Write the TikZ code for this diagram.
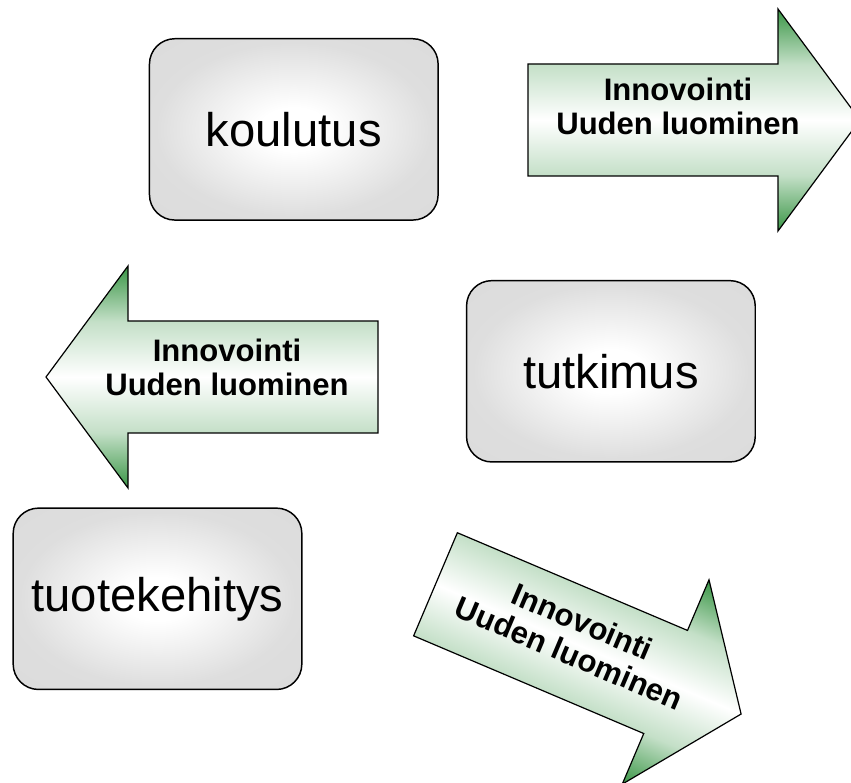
\documentclass[tikz,border=0pt]{standalone}
\usepackage{fontspec}
\setmainfont{Liberation Sans}

\definecolor{innogreen}{RGB}{58,150,70}
\pgfdeclareradialshading{boxglow}{\pgfpoint{0bp}{0bp}}{color(0bp)=(white); color(6bp)=(white); color(24bp)=(gray!26); color(50bp)=(gray!30)}
\pgfdeclareverticalshading{arrowglow}{100bp}{color(0bp)=(innogreen); color(25bp)=(innogreen); color(37.5bp)=(innogreen!30); color(50bp)=(white); color(62.5bp)=(innogreen!30); color(75bp)=(innogreen); color(100bp)=(innogreen)}

\tikzset{
  stage/.style={draw=black, line width=1.1pt, rounded corners=19pt, shade, shading=boxglow,
    minimum width=216.5pt, minimum height=136pt, inner sep=0pt, font=\fontsize{35.4}{40}\selectfont},
  innoarrow/.style={draw=black, line width=0.9pt, shade, shading=arrowglow},
  innotext/.style={align=center, inner sep=0pt, font=\bfseries\fontsize{23.3}{25.5}\selectfont}
}

\begin{document}
\begin{tikzpicture}[x=0.75pt,y=0.75pt]
\useasboundingbox (0,0) rectangle (851,783);

% the three stages
\node[stage] (koulutus) at (293.8,653.6) {koulutus};
\node[stage] (tutkimus) at (610.9,411.7) {tutkimus};
\node[stage] (tuotekehitys) at (157.5,184.2) {tuotekehitys};

% arrow to the right
\begin{scope}[shift={(528,663)}]
  \path[innoarrow] (0,-56) -- (250,-56) -- (250,-111) -- (332,0) -- (250,111) -- (250,56) -- (0,56) -- cycle;
  \node[innotext] (innoright) at (150,14) {Innovointi\\Uuden luominen};
\end{scope}

% arrow to the left
\begin{scope}[shift={(378,406)}]
  \path[innoarrow] (0,-56) -- (-250,-56) -- (-250,-111) -- (-332,0) -- (-250,111) -- (-250,56) -- (0,56) -- cycle;
  \node[innotext] (innoleft) at (-151,10) {Innovointi\\Uuden luominen};
\end{scope}

% arrow down the slope
\begin{scope}[transform canvas={shift={(435.5,198.7)},rotate=-23}]
  \path[innoarrow] (0,-56) -- (250,-56) -- (250,-111) -- (332,0) -- (250,111) -- (250,56) -- (0,56) -- cycle;
  \node[innotext] (innodown) at (150,6) {Innovointi\\Uuden luominen};
\end{scope}

\end{tikzpicture}
\end{document}
